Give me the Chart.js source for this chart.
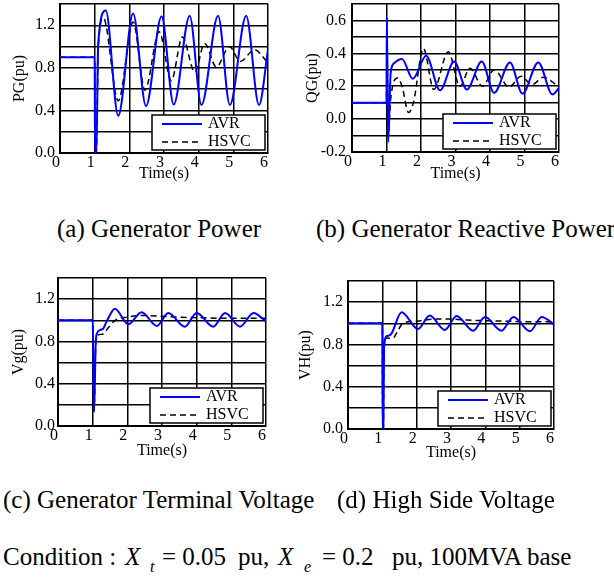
<!DOCTYPE html>
<html>
<head>
<meta charset="utf-8">
<script src="https://cdn.jsdelivr.net/npm/chart.js@4.4.1/dist/chart.umd.min.js"></script>
<style>
  body { margin: 0; background: #fff; width: 614px; height: 579px; position: relative; overflow: hidden;
         font-family: "Liberation Serif", "Times New Roman", serif; color: #000; }
  canvas { position: absolute; }
  .cap { position: absolute; font-family: "Liberation Serif", serif; font-size: 25px; line-height: 25px; white-space: nowrap; }
  .it { font-style: italic; }
  .sub { position: absolute; font-family: "Liberation Serif", serif; font-style: italic; font-size: 16px; line-height: 16px; }
</style>
</head>
<body>
<canvas id="pg" width="300" height="190" style="left:0;top:0"></canvas>
<canvas id="qg" width="300" height="190" style="left:292px;top:0"></canvas>
<canvas id="vg" width="300" height="200" style="left:0;top:270px"></canvas>
<canvas id="vh" width="300" height="200" style="left:290px;top:270px"></canvas>

<div class="cap" style="left:57px;top:216px">(a) Generator Power</div>
<div class="cap" style="left:316px;top:216px">(b) Generator Reactive Power</div>
<div class="cap" style="left:3px;top:487px">(c) Generator Terminal Voltage</div>
<div class="cap" style="left:337px;top:487px">(d) High Side Voltage</div>

<div class="cap" style="left:3px;top:544px">Condition :</div>
<div class="cap it" style="left:125px;top:544px">X</div>
<div class="sub" style="left:150px;top:559px">t</div>
<div class="cap" style="left:162px;top:544px">= 0.05</div>
<div class="cap" style="left:238px;top:544px">pu,</div>
<div class="cap it" style="left:278px;top:544px">X</div>
<div class="sub" style="left:304px;top:559px">e</div>
<div class="cap" style="left:322px;top:544px">= 0.2</div>
<div class="cap" style="left:392px;top:544px">pu, 100MVA base</div>

<script>
const seriesNames = ["AVR", "HSVC"];
const timeTicks = [0, 1, 2, 3, 4, 5, 6];

// (a) generator power PG
const pgAvrT = [0, 1.0, 1.01, 1.05, 1.1, 1.32, 1.68, 2.11, 2.48, 2.93, 3.28, 3.74, 4.08, 4.56, 4.9, 5.37, 5.74, 6.0];
const pgAvr  = [0.9, 0.9, 0.0, 0.0, 1.02, 1.34, 0.35, 1.31, 0.44, 1.285, 0.455, 1.29, 0.45, 1.29, 0.45, 1.29, 0.45, 0.97];
const pgHsvcT = [0, 1.0, 1.01, 1.05, 1.1, 1.25, 1.68, 2.11, 2.45, 2.86, 3.21, 3.53, 3.89, 4.17, 4.51, 4.89, 5.2, 5.61, 5.97];
const pgHsvc  = [0.9, 0.9, 0.0, 0.0, 0.95, 1.27, 0.49, 1.23, 0.59, 1.14, 0.68, 1.09, 0.76, 1.03, 0.81, 1.0, 0.86, 0.97, 0.86];

// (b) generator reactive power QG
const qgAvrT = [0, 1.0, 1.01, 1.05, 1.12, 1.22, 1.45, 1.76, 2.15, 2.55, 2.96, 3.33, 3.76, 4.12, 4.58, 4.94, 5.4, 5.81, 6.0];
const qgAvr  = [0.1, 0.1, 0.62, -0.14, 0.28, 0.34, 0.365, 0.245, 0.385, 0.175, 0.35, 0.18, 0.35, 0.16, 0.345, 0.155, 0.345, 0.15, 0.19];
const qgHsvcT = [0, 1.0, 1.01, 1.05, 1.12, 1.32, 1.45, 1.64, 1.78, 2.07, 2.37, 2.79, 3.13, 3.42, 3.78, 4.12, 4.55, 4.9, 5.22, 5.55, 5.97];
const qgHsvc  = [0.1, 0.1, 0.55, -0.1, 0.12, 0.25, 0.2, 0.04, 0.1, 0.43, 0.18, 0.41, 0.2, 0.31, 0.2, 0.3, 0.195, 0.26, 0.21, 0.255, 0.2];

// (c) generator terminal voltage Vg
const vgAvrT = [0, 1.0, 1.04, 1.09, 1.13, 1.22, 1.3, 1.42, 1.64, 2.03, 2.41, 2.85, 3.18, 3.66, 4.0, 4.48, 4.82, 5.25, 5.64, 6.0];
const vgAvr  = [1.0, 1.0, 0.13, 0.8, 0.88, 0.91, 0.92, 1.0, 1.11, 0.963, 1.077, 0.947, 1.07, 0.94, 1.07, 0.94, 1.07, 0.94, 1.07, 0.99];
const vgHsvcT = [0, 1.0, 1.04, 1.09, 1.15, 1.3, 1.45, 1.65, 2.0, 2.45, 2.9, 3.4, 4.0, 4.6, 5.2, 6.0];
const vgHsvc  = [1.0, 1.0, 0.15, 0.78, 0.86, 0.87, 0.93, 1.0, 1.03, 1.045, 1.04, 1.03, 1.025, 1.02, 1.02, 1.02];

// (d) high side voltage VH
const vhAvrT = [0, 1.0, 1.01, 1.03, 1.05, 1.14, 1.26, 1.56, 2.04, 2.38, 2.82, 3.16, 3.65, 3.99, 4.47, 4.82, 5.3, 5.64, 6.0];
const vhAvr  = [1.0, 1.0, 0.0, 0.0, 0.78, 0.88, 0.9, 1.105, 0.946, 1.073, 0.937, 1.07, 0.93, 1.06, 0.93, 1.06, 0.924, 1.06, 0.99];
const vhHsvcT = [0, 1.0, 1.01, 1.03, 1.05, 1.12, 1.3, 1.45, 1.6, 2.0, 2.5, 3.0, 3.5, 4.0, 4.6, 5.2, 6.0];
const vhHsvc  = [1.0, 1.0, 0.0, 0.0, 0.76, 0.86, 0.857, 0.93, 1.0, 1.02, 1.04, 1.04, 1.03, 1.025, 1.02, 1.015, 1.015];

const FONT = '"Liberation Serif", "Times New Roman", serif';

function pts(t, v) {
  return t.map((x, i) => ({ x: x, y: v[i] }));
}

// legend box drawn inside the plot, lower right corner
const boxLegend = {
  id: 'boxLegend',
  afterDatasetsDraw(chart) {
    const ctx = chart.ctx;
    const a = chart.chartArea;
    const w = 113, h = 35;
    const x0 = a.right - 3 - w, y0 = a.bottom - 3 - h;
    ctx.save();
    ctx.fillStyle = '#fff';
    ctx.fillRect(x0, y0, w, h);
    ctx.strokeStyle = '#000';
    ctx.lineWidth = 1.5;
    ctx.strokeRect(x0, y0, w, h);
    chart.data.datasets.forEach((ds, i) => {
      const y = y0 + 9 + i * 18;
      ctx.beginPath();
      ctx.setLineDash(ds.borderDash || []);
      ctx.strokeStyle = ds.borderColor;
      ctx.lineWidth = ds.borderWidth;
      ctx.moveTo(x0 + 10, y);
      ctx.lineTo(x0 + 50, y);
      ctx.stroke();
      ctx.setLineDash([]);
      ctx.fillStyle = '#000';
      ctx.font = '16px ' + FONT;
      ctx.textBaseline = 'middle';
      ctx.fillText(ds.label, x0 + 56, y);
    });
    ctx.restore();
  }
};

function makeChart(id, p) {
  new Chart(document.getElementById(id), {
    type: 'line',
    data: {
      datasets: [
        {
          label: seriesNames[0],
          data: pts(p.avrT, p.avr),
          borderColor: '#0000ff',
          borderWidth: 2,
          pointRadius: 0,
          cubicInterpolationMode: 'monotone'
        },
        {
          label: seriesNames[1],
          data: pts(p.hsvcT, p.hsvc),
          borderColor: '#000',
          borderWidth: 1.5,
          borderDash: [6, 4],
          pointRadius: 0,
          cubicInterpolationMode: 'monotone'
        }
      ]
    },
    options: {
      responsive: false,
      animation: false,
      devicePixelRatio: 1,
      layout: { padding: { left: 0, top: p.padTop, right: p.padRight, bottom: 0 } },
      plugins: { legend: { display: false }, tooltip: { enabled: false } },
      scales: {
        x: {
          type: 'linear',
          min: 0,
          max: 6,
          afterFit: (s) => { s.height = p.xH; s.paddingLeft = 0; s.paddingRight = 0; },
          afterBuildTicks: (s) => { s.ticks = timeTicks.map((v) => ({ value: v })); },
          grid: { color: '#000', lineWidth: 1.5, drawTicks: false },
          border: { color: '#000', width: 2 },
          ticks: { color: '#000', font: { family: FONT, size: 16 }, padding: 0, labelOffset: -4, maxRotation: 0, autoSkip: false },
          title: { display: true, text: 'Time(s)', color: '#000', font: { family: FONT, size: 16 }, padding: { top: 0, bottom: p.xTitlePad } }
        },
        y: {
          min: p.yMin,
          max: p.yMax,
          afterFit: (s) => { s.width = p.yW; s.paddingTop = 0; s.paddingBottom = 0; },
          grid: { color: '#000', lineWidth: 1.5, drawTicks: false },
          border: { color: '#000', width: 2 },
          ticks: {
            stepSize: p.yStep,
            autoSkip: false,
            color: '#000',
            font: { family: FONT, size: 16 },
            padding: p.yTickPad,
            callback: (v) => {
              const k = Math.round(v * 10);
              return Math.abs(k) % p.labelEvery === 0 ? (k / 10).toFixed(1) : '';
            }
          },
          title: { display: true, text: p.yTitle, color: '#000', font: { family: FONT, size: 16 }, padding: { top: p.yTitlePad, bottom: 0 } }
        }
      }
    },
    plugins: [boxLegend]
  });
}

makeChart('pg', { avrT: pgAvrT, avr: pgAvr, hsvcT: pgHsvcT, hsvc: pgHsvc,
  yMin: 0, yMax: 1.4, yStep: 0.2, labelEvery: 4, yTitle: 'PG(pu)',
  padTop: 4, padRight: 32, xH: 37, yW: 60, yTickPad: 5, yTitlePad: 10, xTitlePad: 7 });

makeChart('qg', { avrT: qgAvrT, avr: qgAvr, hsvcT: qgHsvcT, hsvc: qgHsvc,
  yMin: -0.2, yMax: 0.7, yStep: 0.1, labelEvery: 2, yTitle: 'QG(pu)',
  padTop: 4, padRight: 33, xH: 38, yW: 60, yTickPad: 6, yTitlePad: 11, xTitlePad: 7 });

makeChart('vg', { avrT: vgAvrT, avr: vgAvr, hsvcT: vgHsvcT, hsvc: vgHsvc,
  yMin: 0, yMax: 1.4, yStep: 0.2, labelEvery: 4, yTitle: 'Vg(pu)',
  padTop: 8, padRight: 34, xH: 44, yW: 58, yTickPad: 3, yTitlePad: 9, xTitlePad: 10 });

makeChart('vh', { avrT: vhAvrT, avr: vhAvr, hsvcT: vhHsvcT, hsvc: vhHsvc,
  yMin: 0, yMax: 1.4, yStep: 0.2, labelEvery: 4, yTitle: 'VH(pu)',
  padTop: 11, padRight: 36, xH: 41, yW: 58, yTickPad: 5, yTitlePad: 6, xTitlePad: 8 });
</script>
</body>
</html>
